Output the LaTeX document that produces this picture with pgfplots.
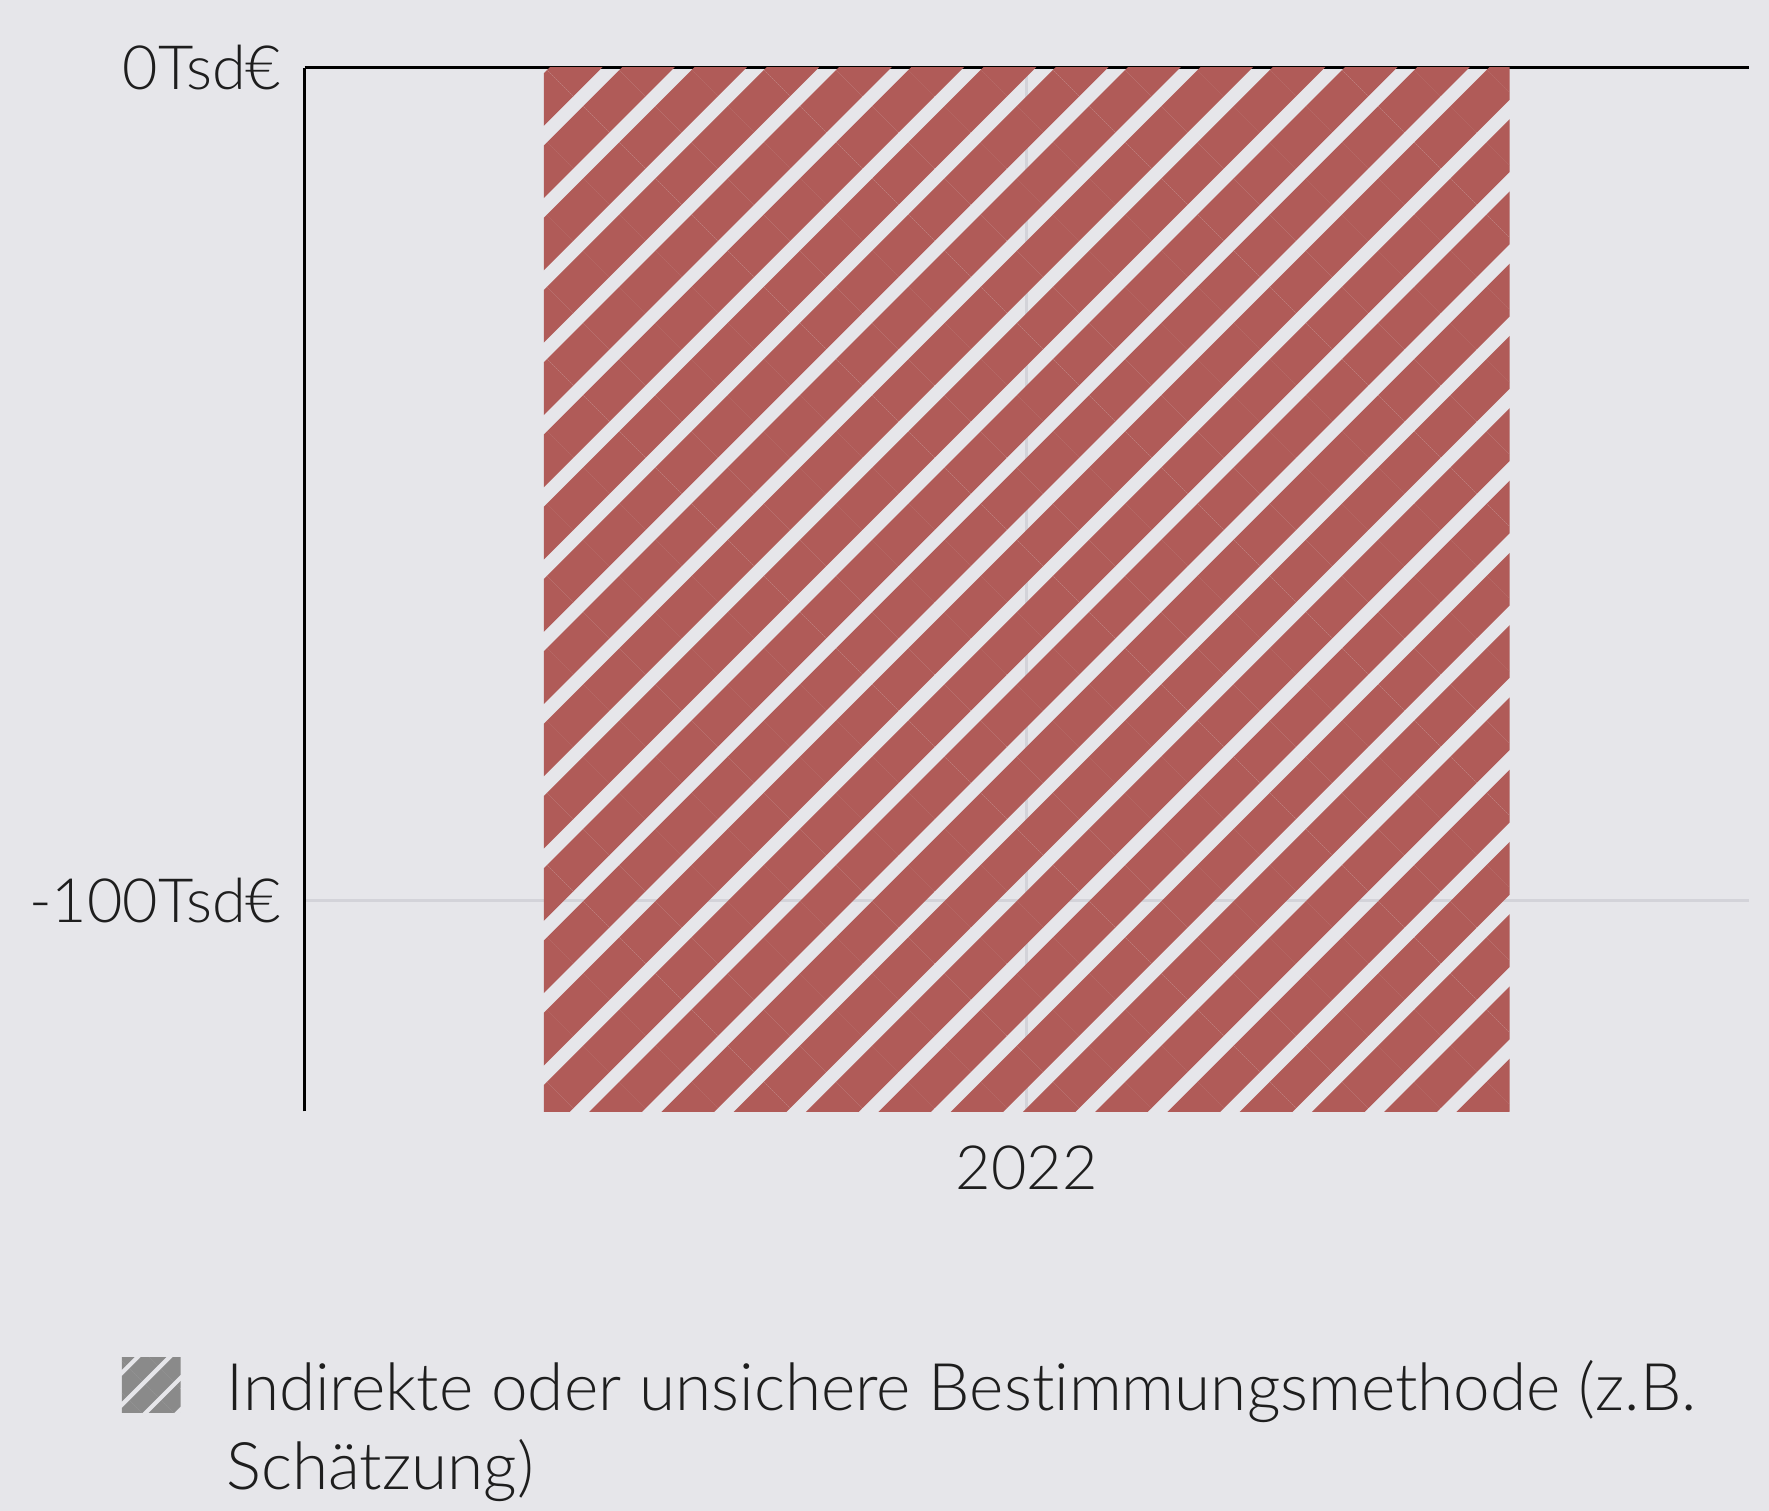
\documentclass[border=0pt]{standalone}
\usepackage{fontspec}
\setmainfont{Lato}[UprightFont={* Light}, Ligatures=NoCommon]
\usepackage{pgfplots}
\pgfplotsset{compat=1.18}
\usetikzlibrary{patterns.meta}
\definecolor{bgcol}{HTML}{E6E6EA}
\definecolor{barred}{HTML}{B05B58}
\definecolor{gridcol}{HTML}{D3D3D9}
\definecolor{txt}{HTML}{1E1E1E}
\definecolor{leggray}{HTML}{8A8A8A}
\begin{document}
\begin{tikzpicture}
\fill[bgcol] (-2.70,-3.54) rectangle (12.98,9.85);
\begin{axis}[
  at={(0,0)}, anchor=south west,
  scale only axis, width=12.8cm, height=9.25cm,
  xmin=-0.5, xmax=0.5, ymin=-125.3, ymax=0,
  axis x line*=bottom, axis y line*=left,
  x axis line style={draw=none},
  y axis line style={black, line width=0.9pt, -},
  major tick length=0pt,
  grid=major,
  major grid style={gridcol, line width=0.6pt},
  xtick={0}, xticklabels={2022},
  ytick={-100}, yticklabels={-100Tsd€},
  extra y ticks={0}, extra y tick labels={0Tsd€},
  extra y tick style={grid=major, major grid style={black, line width=0.9pt}},
  tick label style={font=\fontsize{15.4}{18}\selectfont, text=txt},
  yticklabel style={inner sep=0pt, xshift=-0.2cm},
  xticklabel style={inner sep=0pt, anchor=north, yshift=-0.30cm},
  /pgf/number format/assume math mode=true,
  clip=false,
]
\addplot[ybar, bar width=8.56cm, draw=none,
  pattern={Lines[angle=45,distance=4.53mm,line width=3.3mm]},
  pattern color=barred] coordinates {(0,-125.3)};
\end{axis}
\fill[pattern={Lines[angle=45,distance=2.0mm,line width=1.6mm]}, pattern color=leggray] (-1.62,-2.67) rectangle (-1.10,-2.18);
\node[anchor=base west, inner sep=0pt, font=\fontsize{16.55}{20}\selectfont, text=txt] at (-0.70,-2.65) {Indirekte oder unsichere Bestimmungsmethode (z.B.};
\node[anchor=base west, inner sep=0pt, font=\fontsize{16.55}{20}\selectfont, text=txt] at (-0.70,-3.35) {Schätzung)};
\pgfresetboundingbox
\path (-2.70,-3.54) rectangle (12.98,9.85);
\end{tikzpicture}
\end{document}
